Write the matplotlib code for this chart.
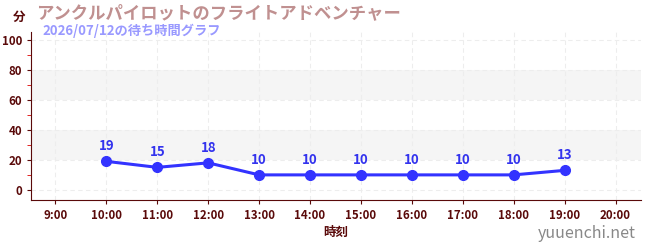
import matplotlib
matplotlib.use("Agg")
import matplotlib.pyplot as plt
from matplotlib.ticker import MultipleLocator

plt.rcParams['font.family'] = ['Noto Sans CJK JP', 'DejaVu Sans']

hours = [10, 11, 12, 13, 14, 15, 16, 17, 18, 19]
waits = [19, 15, 18, 10, 10, 10, 10, 10, 10, 13]
tick_hours = list(range(9, 21))
tick_labels = [f"{h}:00" for h in tick_hours]
title = "アンクルパイロットのフライトアドベンチャー"
subtitle = "2026/07/12の待ち時間グラフ"

dark = "#5a0a0a"
fig = plt.figure(figsize=(6.5, 2.5), dpi=100)
ax = fig.add_axes([31/650, 50/250, 610/650, 168/250])

ax.set_xlim(8.52, 20.5)
ax.set_ylim(-6.7, 105)
for lo, hi in [(20, 40), (60, 80)]:
    ax.axhspan(lo, hi, color="#f5f5f5", zorder=0, lw=0)
ax.grid(True, which="major", color="#ededed", ls=(0, (4, 3)), lw=0.8)
ax.set_axisbelow(True)

ax.plot(hours, waits, color="#3333ff", lw=2.2, marker="o", ms=7, zorder=3)
for h, w in zip(hours, waits):
    ax.annotate(str(w), (h, w), xytext=(0, 6), textcoords="offset points",
                ha="center", va="bottom", color="#3333ee", fontsize=9.5, fontweight="bold")

ax.set_xticks(tick_hours)
ax.set_xticklabels(tick_labels)
ax.set_yticks(range(0, 101, 20))
ax.yaxis.set_minor_locator(MultipleLocator(10))
ax.tick_params(axis="y", which="minor", length=3, color="#dd0000")
ax.tick_params(axis="both", which="major", labelsize=8.3, labelcolor=dark, color=dark, length=3)
for lab in ax.get_xticklabels() + ax.get_yticklabels():
    lab.set_fontweight("bold")
for s in ["top", "right"]:
    ax.spines[s].set_visible(False)
for s in ["left", "bottom"]:
    ax.spines[s].set_color(dark)

ax.set_xlabel("時刻", color=dark, fontsize=9, fontweight="bold", labelpad=3)
fig.text(13/650, 1 - 17/250, "分", color=dark, fontsize=9, fontweight="bold", ha="left", va="center")
fig.text(36/650, 1 - 13/250, title, color="#c09090", fontsize=12.5, fontweight="bold", ha="left", va="center")
fig.text(42/650, 1 - 31/250, subtitle, color="#9999ff", fontsize=9.5, fontweight="bold", ha="left", va="center")
fig.text(636/650, 1 - 234/250, "yuuenchi.net", color="#888888", fontsize=11.5, ha="right", va="center")

fig.savefig("out.png", dpi=100)
